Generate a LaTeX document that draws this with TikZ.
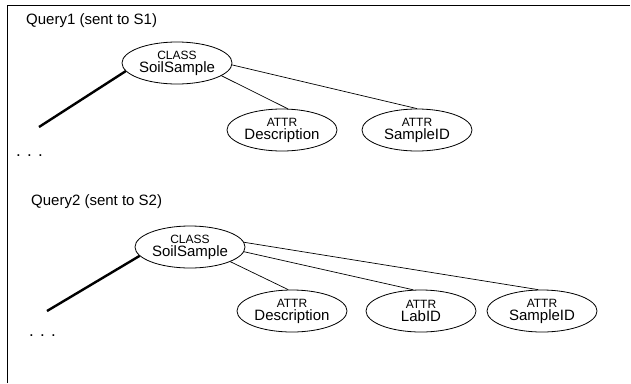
\documentclass[tikz,border=0pt]{standalone}
\usepackage{fontspec}
\setmainfont{Liberation Sans}
\usetikzlibrary{shapes.geometric}
\newcommand\kindlabel[1]{{\fontsize{12}{13}\selectfont #1}}
\begin{document}
\begin{tikzpicture}[x=1pt,y=-1pt,
  entity/.style={ellipse, draw, line width=0.8pt, minimum width=110pt,
    minimum height=42pt, inner sep=0pt, align=center,
    font=\fontsize{15}{13}\selectfont},
  link/.style={line width=0.7pt},
  stub/.style={line width=2.4pt},
  caption/.style={anchor=west, inner sep=0pt, font=\fontsize{15}{15}\selectfont},
  ellip/.style={anchor=base west, inner sep=0pt, font=\fontsize{17}{17}\selectfont}]
\useasboundingbox (0,0) rectangle (631,383);
% page frame (top and left edges only)
\draw[line width=0.8pt] (7,383) -- (7,5) -- (630,5);

% ---- first query ----
\node[caption] (q1) at (26,21) {Query1 (sent to S1)};
\node[entity] (c1) at (177,63) {\kindlabel{CLASS}\\SoilSample};
\node[entity] (d1) at (282,130) {\kindlabel{ATTR}\\Description};
\node[entity] (s1) at (417,130) {\kindlabel{ATTR}\\SampleID};
\coordinate (e1) at (39,127);
\node[ellip] (m1) at (16,156) {. . .};
\draw[stub] (e1) -- (c1.189);
\draw[link] (c1.-16) -- (d1.75);
\draw[link] (c1.-2) -- (s1.north);

% ---- second query ----
\node[caption] (q2) at (31,202) {Query2 (sent to S2)};
\node[entity] (c2) at (190,247) {\kindlabel{CLASS}\\SoilSample};
\node[entity] (d2) at (292,311) {\kindlabel{ATTR}\\Description};
\node[entity] (l2) at (421,311) {\kindlabel{ATTR}\\LabID};
\node[entity] (s2) at (542,311) {\kindlabel{ATTR}\\SampleID};
\coordinate (e2) at (47,311);
\node[ellip] (m2) at (29,336) {. . .};
\draw[stub] (e2) -- (c2.190);
\draw[link] (c2.-20) -- (d2.100);
\draw[link] (c2.-5) -- (l2.110);
\draw[link] (c2.5) -- (s2.100);
\end{tikzpicture}
\end{document}
